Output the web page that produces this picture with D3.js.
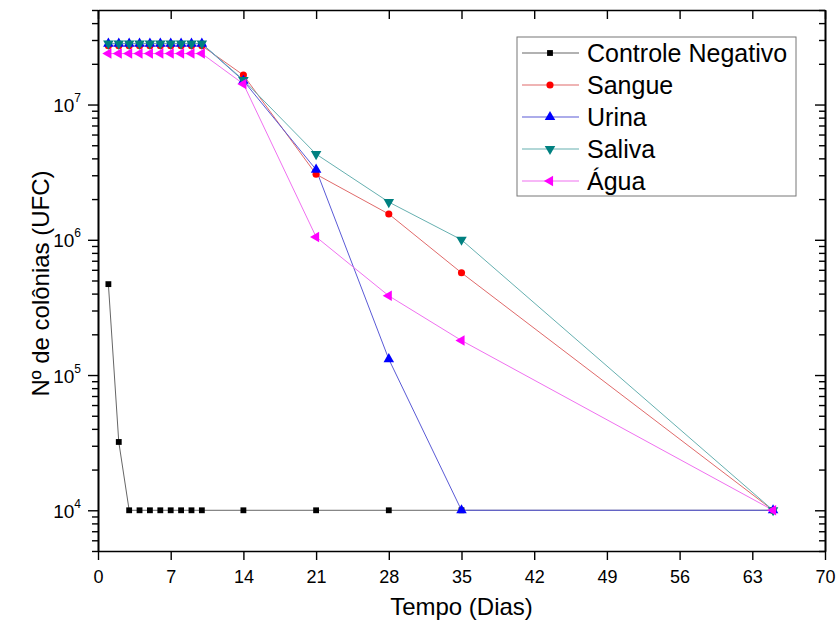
<!DOCTYPE html>
<html>
<head>
<meta charset="utf-8">
<script src="https://cdn.jsdelivr.net/npm/d3@7"></script>
<style>
  body { margin: 0; background: #fff; }
  text { font-family: "Liberation Sans", Arial, sans-serif; fill: #000; }
</style>
</head>
<body>
<svg id="chart" width="838" height="637"></svg>
<script>
// days sampled (x) and colony counts for every series
var days = [1, 2, 3, 4, 5, 6, 7, 8, 9, 10, 14, 21, 28, 35, 65];
var controleNegativo = [4.7e5, 3.2e4, 1e4, 1e4, 1e4, 1e4, 1e4, 1e4, 1e4, 1e4, 1e4, 1e4, 1e4, 1e4, 1e4];
var sangue = [2.72e7, 2.72e7, 2.72e7, 2.72e7, 2.72e7, 2.72e7, 2.72e7, 2.72e7, 2.72e7, 2.72e7, 1.65e7, 3.05e6, 1.55e6, 5.7e5, 1e4];
var urina = [2.82e7, 2.82e7, 2.82e7, 2.82e7, 2.82e7, 2.82e7, 2.82e7, 2.82e7, 2.82e7, 2.82e7, 1.5e7, 3.3e6, 1.31e5, 1e4, 1e4];
var saliva = [2.82e7, 2.82e7, 2.82e7, 2.82e7, 2.82e7, 2.82e7, 2.82e7, 2.82e7, 2.82e7, 2.82e7, 1.52e7, 4.3e6, 1.9e6, 1.0e6, 1e4];
var agua = [2.38e7, 2.38e7, 2.38e7, 2.38e7, 2.38e7, 2.38e7, 2.38e7, 2.38e7, 2.38e7, 2.38e7, 1.42e7, 1.05e6, 3.85e5, 1.8e5, 1e4];

var xTicks = [0, 7, 14, 21, 28, 35, 42, 49, 56, 63, 70];
var yExponents = [4, 5, 6, 7];
var seriesNames = ["Controle Negativo", "Sangue", "Urina", "Saliva", "Água"];

var series = [
  { name: seriesNames[0], values: controleNegativo, color: "#000000", line: "#666666", shape: d3.symbolSquare, size: 34, rot: 0 },
  { name: seriesNames[1], values: sangue, color: "#ff0000", line: "#e06a6a", shape: d3.symbolCircle, size: 40, rot: 0 },
  { name: seriesNames[2], values: urina, color: "#0000ff", line: "#5a5ad6", shape: d3.symbolTriangle, size: 48, rot: 0 },
  { name: seriesNames[3], values: saliva, color: "#008080", line: "#66b0b0", shape: d3.symbolTriangle, size: 48, rot: 180 },
  { name: seriesNames[4], values: agua, color: "#ff00ff", line: "#f070f0", shape: d3.symbolTriangle, size: 48, rot: -90 }
];

// plot frame
var margin = { top: 10, right: 13, bottom: 86, left: 98 },
  width = 838 - margin.left - margin.right,
  height = 637 - margin.top - margin.bottom;

var svg = d3.select("#chart")
  .append("g")
  .attr("transform", "translate(" + margin.left + "," + margin.top + ")");

var x = d3.scaleLinear().domain([0, 70]).range([0, width]);
var y = d3.scaleLog().domain([5e3, 5e7]).range([height, 0]);

var majorY = yExponents.map(function (e) { return Math.pow(10, e); });
var minorY = y.ticks().filter(function (v) { return majorY.indexOf(v) < 0; });

// lines
var line = d3.line()
  .x(function (d) { return x(d[0]); })
  .y(function (d) { return y(d[1]); });

series.forEach(function (s) {
  var pts = days.map(function (d, i) { return [d, s.values[i]]; });
  svg.append("path")
    .datum(pts)
    .attr("fill", "none")
    .attr("stroke", s.line)
    .attr("stroke-width", 1)
    .attr("d", line);
});

// markers on top, in series order
series.forEach(function (s) {
  var sym = d3.symbol().type(s.shape).size(s.size);
  svg.append("g").selectAll("path")
    .data(days.map(function (d, i) { return [d, s.values[i]]; }))
    .enter()
    .append("path")
    .attr("d", sym)
    .attr("fill", s.color)
    .attr("transform", function (d) {
      return "translate(" + x(d[0]) + "," + y(d[1]) + ") rotate(" + s.rot + ")";
    });
});

// axes
function styleAxis(g) {
  g.select(".domain").attr("stroke", "#000").attr("stroke-width", 1.6);
  g.selectAll(".tick line").attr("stroke", "#000").attr("stroke-width", 1.4);
}

// bottom
svg.append("g")
  .attr("transform", "translate(0," + height + ")")
  .call(d3.axisBottom(x).tickValues(xTicks).tickSize(9).tickSizeOuter(0).tickPadding(10))
  .call(styleAxis)
  .call(function (g) {
    g.selectAll(".tick text").attr("font-size", 18).attr("font-family", "Liberation Sans, Arial, sans-serif");
  });

// top
svg.append("g")
  .call(d3.axisTop(x).tickValues(xTicks).tickSize(-9).tickSizeOuter(0).tickFormat(""))
  .call(styleAxis);

// left, majors with labels
var left = svg.append("g")
  .call(d3.axisLeft(y).tickValues(majorY).tickSize(10).tickSizeOuter(0).tickFormat(""))
  .call(styleAxis);
svg.append("g")
  .call(d3.axisLeft(y).tickValues(minorY).tickSize(6).tickSizeOuter(0).tickFormat(""))
  .call(styleAxis);

left.selectAll(".tick")
  .append("text")
  .attr("x", -17)
  .attr("y", 7)
  .attr("text-anchor", "end")
  .attr("font-size", 19)
  .each(function (v) {
    var t = d3.select(this);
    t.append("tspan").text("10");
    t.append("tspan")
      .attr("font-size", 12)
      .attr("dy", -10)
      .text(Math.round(Math.log10(v)));
  });

// right, inward ticks
svg.append("g")
  .attr("transform", "translate(" + width + ",0)")
  .call(d3.axisRight(y).tickValues(majorY).tickSize(-10).tickSizeOuter(0).tickFormat(""))
  .call(styleAxis);
svg.append("g")
  .attr("transform", "translate(" + width + ",0)")
  .call(d3.axisRight(y).tickValues(minorY).tickSize(-6).tickSizeOuter(0).tickFormat(""))
  .call(styleAxis);

// axis titles
svg.append("text")
  .attr("x", width / 2)
  .attr("y", height + 64)
  .attr("text-anchor", "middle")
  .attr("font-size", 24)
  .text("Tempo (Dias)");

svg.append("text")
  .attr("transform", "translate(" + (49 - margin.left) + "," + (height / 2 + 3) + ") rotate(-90)")
  .attr("text-anchor", "middle")
  .attr("font-size", 24)
  .text("Nº de colônias (UFC)");

// legend
var legend = d3.select("#chart").append("g").attr("transform", "translate(517,37)");
legend.append("rect")
  .attr("width", 279)
  .attr("height", 159)
  .attr("fill", "#fff")
  .attr("stroke", "#777")
  .attr("stroke-width", 1);

series.forEach(function (s, i) {
  var gy = 16 + i * 32;
  var row = legend.append("g").attr("transform", "translate(0," + gy + ")");
  row.append("line")
    .attr("x1", 5).attr("x2", 62)
    .attr("stroke", s.line)
    .attr("stroke-width", 1.2);
  row.append("path")
    .attr("d", d3.symbol().type(s.shape).size(s.size))
    .attr("fill", s.color)
    .attr("transform", "translate(33,0) rotate(" + s.rot + ")");
  row.append("text")
    .attr("x", 70)
    .attr("y", 9)
    .attr("font-size", 25)
    .text(s.name);
});
</script>
</body>
</html>
